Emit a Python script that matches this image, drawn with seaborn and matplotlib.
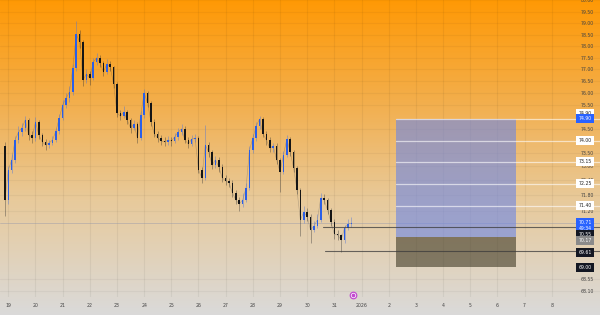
import numpy as np
import pandas as pd
import matplotlib
matplotlib.use("Agg")
import matplotlib.pyplot as plt
import matplotlib.ticker as mticker
import seaborn as sns

# ---------------- data ----------------
first_open = 73.80
closes = [71.62, 72.82, 73.23, 74.04, 74.37, 74.54, 74.87, 74.25, 74.12, 74.79,
          74.25, 73.96, 73.84, 73.92, 74.04, 74.41, 74.95, 75.49, 75.78, 76.04,
          77.06, 78.51, 78.18, 76.55, 76.80, 76.63, 77.31, 77.49, 77.27, 76.89,
          77.23, 77.10, 76.38, 75.16, 75.03, 75.20, 74.87, 74.54, 74.70, 74.12,
          75.08, 76.00, 75.58, 74.79, 74.29, 74.12, 74.00, 73.96, 74.04, 74.00,
          74.17, 74.37, 74.50, 74.04, 73.88, 74.08, 74.12, 72.82, 72.50, 73.84,
          73.55, 73.02, 73.23, 72.94, 72.50, 72.38, 72.30, 71.90, 71.62, 71.46,
          71.62, 72.10, 73.63, 74.12, 74.62, 74.91, 74.29, 74.04, 73.71, 73.80,
          73.23, 72.74, 73.43, 74.08, 73.55, 72.90, 72.02, 70.83, 71.15, 70.95,
          70.44, 70.60, 70.83, 71.70, 71.62, 71.22, 70.75, 70.28, 70.24, 70.05,
          70.52, 70.67, 70.71]
highs = [73.95, 73.00, 73.45, 74.20, 74.60, 74.75, 75.05, 74.95, 74.40, 75.00,
         74.85, 74.35, 74.10, 74.05, 74.20, 74.55, 75.10, 75.70, 76.00, 76.30,
         77.25, 79.10, 78.70, 78.25, 77.00, 76.95, 77.50, 77.70, 77.60, 77.35,
         77.45, 77.35, 77.15, 76.45, 75.30, 75.45, 75.30, 74.95, 74.85, 74.80,
         75.25, 76.15, 76.10, 75.65, 74.90, 74.40, 74.25, 74.15, 74.20, 74.15,
         74.35, 74.55, 74.70, 74.60, 74.15, 74.25, 74.30, 74.20, 72.95, 74.65,
         73.95, 73.65, 73.40, 73.35, 73.05, 72.60, 72.50, 72.40, 72.00, 71.75,
         71.90, 72.30, 73.80, 74.30, 74.80, 75.05, 74.98, 74.40, 74.15, 73.90,
         73.90, 73.30, 73.60, 74.25, 74.15, 73.65, 73.00, 72.10, 71.40, 71.30,
         71.05, 70.80, 71.05, 71.90, 71.85, 71.70, 71.30, 70.85, 70.45, 70.30,
         70.65, 70.85, 70.95]
lows = [71.00, 71.45, 72.70, 73.10, 73.90, 74.20, 74.40, 74.05, 73.90, 74.00,
        74.10, 73.80, 73.65, 73.70, 73.85, 73.95, 74.30, 74.85, 75.35, 75.60,
        75.90, 76.95, 77.90, 76.30, 76.40, 76.35, 76.55, 77.20, 77.10, 76.70,
        76.80, 76.95, 76.20, 75.00, 74.85, 74.95, 74.70, 74.35, 74.45, 73.90,
        74.05, 74.95, 75.40, 74.60, 74.15, 73.95, 73.85, 73.80, 73.85, 73.80,
        73.90, 74.05, 74.25, 73.90, 73.70, 73.80, 73.95, 72.70, 72.30, 72.40,
        73.35, 72.85, 72.90, 72.75, 72.35, 72.20, 72.15, 71.75, 71.45, 71.20,
        71.35, 71.55, 72.00, 73.50, 74.00, 74.50, 74.15, 73.85, 73.55, 73.55,
        73.05, 71.95, 72.65, 73.35, 73.40, 72.75, 71.85, 70.20, 70.70, 70.80,
        69.95, 70.35, 70.50, 70.75, 71.45, 71.05, 70.60, 70.10, 70.05, 69.58,
        69.95, 70.45, 70.55]
first_candle_hour = -3      # hours from 19 Dec 00:00
candle_hours = 3

day_labels = ["19", "20", "21", "22", "23", "24", "25", "26", "27", "28", "29",
              "30", "31", "2026", "2", "3", "4", "5", "6", "7", "8"]
price_ticks = [80.00, 79.50, 79.00, 78.50, 78.00, 77.50, 77.00, 76.50, 76.00,
               75.50, 74.50, 73.50, 73.00, 72.40, 71.80, 71.20, 68.55, 68.10]

tp_levels = [74.90, 74.00, 73.15, 72.25, 71.40]
target_price = 74.90
entry_price = 70.17
stop_price = 69.00
box_start_day, box_end_day = 14.27, 18.69
marker_levels = [70.55, 69.61]
marker_start_days = [11.58, 11.66]
last_price = 70.71
countdown = "49:34"
event_day = 12.69

# ---------------- figure ----------------
sns.set_theme(style="white")
plt.rcParams["font.family"] = ["DejaVu Sans"]

W, H = 600, 315
fig = plt.figure(figsize=(W / 100, H / 100), dpi=100)

# gradient background
bg = fig.add_axes([0, 0, 1, 1])
bg.set_zorder(0)
stops_y = [0, 100, 200, 315]
stops_c = np.array([[255, 153, 5], [243, 174, 75], [232, 202, 155], [218, 218, 218]]) / 255.0
yy = np.arange(H)
grad = np.stack([np.interp(yy, stops_y, stops_c[:, k]) for k in range(3)], axis=1)
bg.imshow(grad[:, None, :], aspect="auto", extent=[0, 1, 0, 1], origin="upper")
bg.axis("off")

plot_h = 297
ax = fig.add_axes([0, (H - plot_h) / H, 1, plot_h / H])
ax.set_zorder(1)
ax.patch.set_visible(False)

px_per_day = 27.17
x0_px = 8.3
ax.set_xlim(-x0_px / px_per_day, (W - x0_px) / px_per_day)
ax.set_yscale("log")
ax.set_ylim(67.87, 80.018)

# grid
for d in range(len(day_labels)):
    ax.axvline(d, color="black", alpha=0.05, lw=0.8, zorder=0.5)
for p in price_ticks:
    ax.axhline(p, color="black", alpha=0.04, lw=0.8, zorder=0.5)

# candles
n = len(closes)
opens = [first_open] + closes[:-1]
days = np.array([(first_candle_hour + candle_hours * i) / 24.0 for i in range(n)])
df = pd.DataFrame({"day": days, "open": opens, "high": highs, "low": lows, "close": closes})
df["up"] = df["close"] >= df["open"]
up_col, dn_col = "#2a5fe8", "#151515"
sns.lineplot(data=df, x="day", y="close", color="#3a3a3a", lw=0.4, alpha=0.3, ax=ax, zorder=2)
wick_cols = [(0.30, 0.45, 0.85, 0.5) if u else (0.2, 0.2, 0.2, 0.45) for u in df["up"]]
ax.vlines(df["day"], df["low"], df["high"], colors=wick_cols, lw=0.6, zorder=2.5)
body_bot = np.minimum(df["open"], df["close"])
body_h = np.abs(df["close"] - df["open"]).clip(lower=0.03)
ax.bar(df["day"], body_h, bottom=body_bot, width=0.055,
       color=[up_col if u else dn_col for u in df["up"]], lw=0, zorder=3)

# current price line
ax.axhline(last_price, color="#8a90aa", alpha=0.45, lw=0.6, zorder=1.5)

# position box
ax.fill_between([box_start_day, box_end_day], entry_price, target_price,
                color=(110 / 255, 135 / 255, 228 / 255), alpha=0.62, lw=0, zorder=4)
ax.fill_between([box_start_day, box_end_day], stop_price, entry_price,
                color=(55 / 255, 50 / 255, 30 / 255), alpha=0.57, lw=0, zorder=4)

# take-profit white lines
for lv in tp_levels:
    ax.plot([box_start_day, ax.get_xlim()[1]], [lv, lv], color="white", alpha=0.6, lw=0.9, zorder=4.5)
# black level lines
for lv, sd in zip(marker_levels, marker_start_days):
    ax.plot([sd, ax.get_xlim()[1]], [lv, lv], color="#3b3b3b", alpha=0.75, lw=0.8, zorder=4.6)

# event icon
ax.scatter([event_day], [67.87 * 1.0012], s=22, facecolor="white", edgecolor="#c24bd0",
           lw=0.9, zorder=6, clip_on=False)
ax.scatter([event_day], [67.87 * 1.0012], s=3, color="#c24bd0", zorder=7, clip_on=False)

# axes ticks
ax.set_xticks(range(len(day_labels)))
ax.set_xticklabels(day_labels)
ax.yaxis.tick_right()
ax.yaxis.set_major_locator(mticker.FixedLocator(price_ticks))
ax.yaxis.set_major_formatter(mticker.FixedFormatter([f"{p:.2f}" for p in price_ticks]))
ax.yaxis.set_minor_locator(mticker.NullLocator())
ax.tick_params(axis="x", length=0, pad=4.6, labelsize=3.3, labelcolor="#444444")
ax.tick_params(axis="y", length=0, pad=-14.2, labelsize=3.3, labelcolor="#444444")
for s in ax.spines.values():
    s.set_visible(False)
ax.set_xlabel("")
ax.set_ylabel("")


def price_label(price, text, fc, tc, dy_px=0.0, fs=3.3):
    ax.annotate(text, xy=(1, price), xycoords=("axes fraction", "data"),
                xytext=(-15 * 0.72, -dy_px * 0.72), textcoords="offset points",
                ha="center", va="center", fontsize=fs, color=tc, zorder=10,
                bbox=dict(boxstyle="square,pad=0.45", fc=fc, ec="none"),
                annotation_clip=False)


price_label(target_price, f"{target_price:.2f}", "white", "#222222", dy_px=-6.0)
price_label(target_price, f"{target_price:.2f}", "#2962ff", "white", dy_px=-0.8)
for lv in tp_levels[1:]:
    price_label(lv, f"{lv:.2f}", "white", "#222222", dy_px=-0.3)
price_label(last_price, f"{last_price:.2f}\n{countdown}", "#2962ff", "white", dy_px=2.7)
price_label(marker_levels[0], f"{marker_levels[0]:.2f}", "#131722", "white", dy_px=7.7)
price_label(entry_price, f"{entry_price:.2f}", "#8a8a8a", "white", dy_px=4.0)
price_label(marker_levels[1], f"{marker_levels[1]:.2f}", "#131722", "white", dy_px=1.3)
price_label(stop_price, f"{stop_price:.2f}", "#131722", "white", dy_px=0.7)

fig.savefig("out.png", dpi=100)
